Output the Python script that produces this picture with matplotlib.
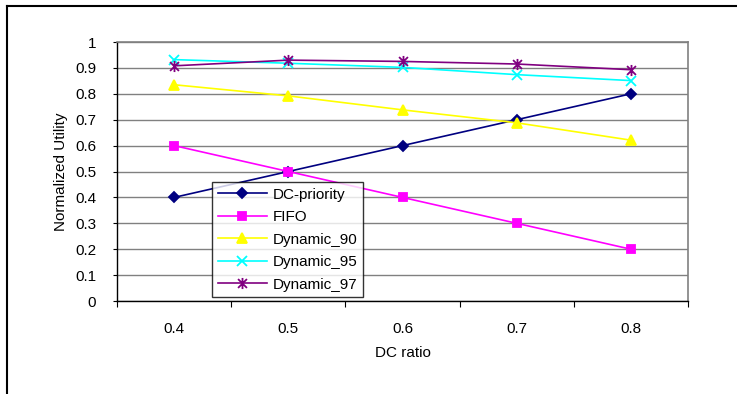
import matplotlib.pyplot as plt
from matplotlib.path import Path
from matplotlib.lines import Line2D

plt.rcParams['font.family'] = ['Liberation Sans', 'DejaVu Sans']

# DC ratio categories and normalized utility per scheduling policy
dc_ratio = ['0.4', '0.5', '0.6', '0.7', '0.8']
dc_priority = [0.4, 0.5, 0.6, 0.7, 0.8]
fifo = [0.6, 0.5, 0.4, 0.3, 0.2]
dynamic_90 = [0.835, 0.792, 0.738, 0.688, 0.621]
dynamic_95 = [0.932, 0.918, 0.902, 0.874, 0.851]
dynamic_97 = [0.908, 0.930, 0.925, 0.915, 0.893]

# star marker: an x with a vertical stroke through it
star = Path([(0, -1), (0, 1), (-0.8, -0.8), (0.8, 0.8), (-0.8, 0.8), (0.8, -0.8)],
            [Path.MOVETO, Path.LINETO, Path.MOVETO, Path.LINETO, Path.MOVETO, Path.LINETO])

fig = plt.figure(figsize=(7.37, 3.94), dpi=100)
ax = fig.add_axes([0.1588, 0.236, 0.7747, 0.6574])

x = range(len(dc_ratio))
series = [
    ('DC-priority', dc_priority, '#000080', 'D', 5),
    ('FIFO', fifo, '#FF00FF', 's', 5.5),
    ('Dynamic_90', dynamic_90, '#FFFF00', '^', 7),
    ('Dynamic_95', dynamic_95, '#00FFFF', 'x', 7),
    ('Dynamic_97', dynamic_97, '#800080', star, 8),
]
for name, vals, col, mk, ms in series:
    ax.plot(x, vals, color=col, marker=mk, markersize=ms, linewidth=1.2,
            markeredgewidth=1.3, markerfacecolor=col, markeredgecolor=col,
            label=name, zorder=3)

ax.set_xlim(-0.5, len(dc_ratio) - 0.5)
ax.set_ylim(0, 1)
ax.set_yticks([i / 10 for i in range(11)])
ax.set_yticklabels(['0'] + ['%.1f' % (i / 10) for i in range(1, 10)] + ['1'])
ax.yaxis.grid(True, color='#808080', linewidth=1.0)
ax.set_axisbelow(True)

# labels sit at the category centres, tick marks at the boundaries
ax.set_xticks(list(x))
ax.set_xticklabels(dc_ratio)
ax.set_xticks([i + 0.5 for i in range(-1, len(dc_ratio))], minor=True)
ax.tick_params(axis='x', which='major', length=0, pad=15, labelsize=11)
ax.tick_params(axis='x', which='minor', length=4, direction='out', width=0.8)
ax.tick_params(axis='y', length=3, direction='out', width=0.8, pad=12, labelsize=11)

for s in ['top', 'right']:
    ax.spines[s].set_color('#808080')
    ax.spines[s].set_linewidth(1.2)
for s in ['left', 'bottom']:
    ax.spines[s].set_color('black')
    ax.spines[s].set_linewidth(1.0)

ax.set_xlabel('DC ratio', fontsize=11, labelpad=7)
ax.set_ylabel('Normalized Utility', fontsize=11, labelpad=5)

leg = ax.legend(loc='lower left', bbox_to_anchor=(0.167, 0.015), fontsize=11,
                frameon=True, fancybox=False, borderpad=0.35, labelspacing=0.56,
                handlelength=3.2, handletextpad=0.4, borderaxespad=0)
leg.get_frame().set_edgecolor('black')
leg.get_frame().set_linewidth(1.0)
leg.set_zorder(5)

# outer chart border
fig.add_artist(Line2D([7 / 737, 1.2], [1 - 6 / 394, 1 - 6 / 394],
                      transform=fig.transFigure, color='black', linewidth=1.5))
fig.add_artist(Line2D([7 / 737, 7 / 737], [-0.2, 1 - 6 / 394],
                      transform=fig.transFigure, color='black', linewidth=1.5))

fig.savefig('out.png', dpi=100)
